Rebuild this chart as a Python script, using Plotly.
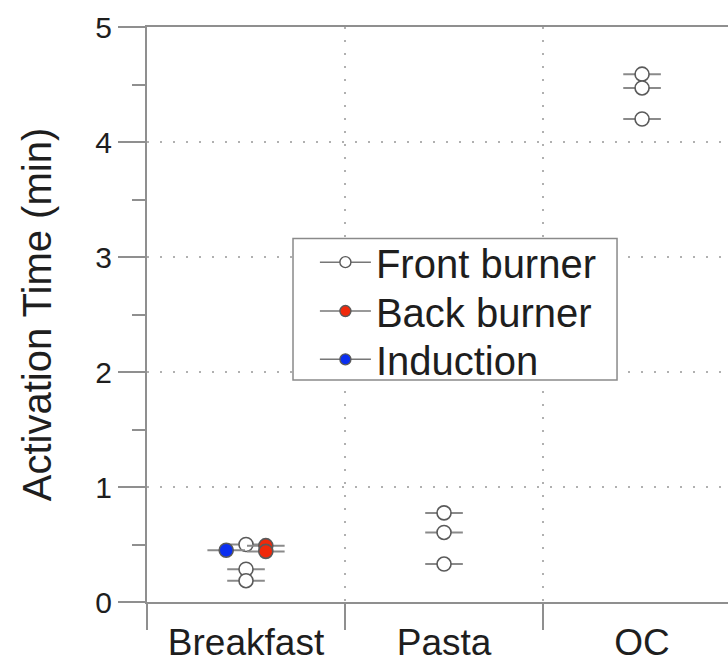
import plotly.graph_objects as go

categories = ["Breakfast", "Pasta", "OC"]
cat_pos = [0, 1, 2]

# Front burner (open circles)
front_x_cat = [0, 0, 0, 1, 1, 1, 2, 2, 2]
front_y = [0.50, 0.285, 0.185, 0.775, 0.605, 0.33, 4.59, 4.47, 4.20]
# Back burner (red)
back_x_cat = [0, 0]
back_y = [0.49, 0.44]
# Induction (blue)
ind_x_cat = [0]
ind_y = [0.45]

series_names = ["Front burner", "Back burner", "Induction"]
series_offset = {"Front burner": 0.0, "Back burner": 0.1, "Induction": -0.1}
bar_half = 0.095

FONT = "Liberation Sans, Arial, Helvetica, sans-serif"
TXT = "#1e1e1e"
AX = "#8f8f8f"
MK_LINE = "#5a5a5a"
colors = {"Front burner": "white", "Back burner": "#f0280a", "Induction": "#0a2ef0"}

fig = go.Figure()

def add_series(name, xc, ys):
    xs = [c + series_offset[name] for c in xc]
    fig.add_trace(go.Scatter(
        x=xs, y=ys, mode="markers", showlegend=False, name=name,
        marker=dict(size=14, color=colors[name], line=dict(color=MK_LINE, width=1.6)),
        error_x=dict(type="data", symmetric=True, array=[bar_half] * len(xs),
                     color="#8a8a8a", thickness=2, width=0),
    ))

add_series("Front burner", front_x_cat, front_y)
add_series("Back burner", back_x_cat, back_y)
add_series("Induction", ind_x_cat, ind_y)

legend_ids = ["legend", "legend2", "legend3"]
for name, lid in zip(series_names, legend_ids):
    fig.add_trace(go.Scatter(
        x=[None], y=[None], mode="lines+markers", name=name, legend=lid,
        line=dict(color="#777777", width=1.5),
        marker=dict(size=11, color=colors[name], line=dict(color=MK_LINE, width=1.4)),
    ))

# dummy trace for the minor-tick overlay axis
fig.add_trace(go.Scatter(x=[None], y=[None], yaxis="y2", showlegend=False, hoverinfo="skip"))

legend_rows_y = [0.591, 0.506, 0.422]
leg_common = dict(x=0.289, xanchor="left", yanchor="middle", bgcolor="rgba(0,0,0,0)",
                  borderwidth=0, font=dict(size=40, family=FONT, color=TXT), itemwidth=51)

fig.update_layout(
    width=728, height=666,
    margin=dict(l=147, r=0, t=27, b=64, autoexpand=False),
    paper_bgcolor="white", plot_bgcolor="white",
    font=dict(family=FONT, color=TXT),
    showlegend=True,
    legend=dict(y=legend_rows_y[0], **leg_common),
    legend2=dict(y=legend_rows_y[1], **leg_common),
    legend3=dict(y=legend_rows_y[2], **leg_common),
    shapes=[dict(type="rect", xref="paper", yref="paper",
                 x0=0.2513, x1=0.809, y0=0.386, y1=0.632,
                 line=dict(color="#8a8a8a", width=1.5), fillcolor="white", layer="above")],
    xaxis=dict(
        range=[-0.5, 2.434], tickmode="array", tickvals=cat_pos, ticktext=categories,
        ticks="", showgrid=False, zeroline=False, automargin=False,
        showline=True, linecolor=AX, linewidth=2, mirror=True,
        tickfont=dict(size=37, family=FONT, color=TXT),
        ticklabelstandoff=7,
        minor=dict(tick0=-0.5, dtick=1, ticks="outside", ticklen=26, tickwidth=2,
                   tickcolor=AX, showgrid=True, gridcolor="#b0b0b0", gridwidth=1.5,
                   griddash="2px,11px"),
    ),
    yaxis=dict(
        range=[0, 5], tickmode="array", tickvals=[0, 1, 2, 3, 4, 5], automargin=False,
        ticks="outside", ticklen=27, tickwidth=2,
        tickcolor=AX, showline=True, linecolor=AX, linewidth=2, zeroline=False,
        showgrid=True, gridcolor="#b0b0b0", gridwidth=1.5, griddash="2px,11px",
        tickfont=dict(size=30, family=FONT, color=TXT),
        title=dict(text="Activation Time (min)", font=dict(size=40, family=FONT, color=TXT),
                   standoff=31),
    ),
    yaxis2=dict(
        overlaying="y", side="left", anchor="x", range=[0, 5], automargin=False,
        tickmode="array", tickvals=[0.5, 1.5, 2.5, 3.5, 4.5],
        ticks="outside", ticklen=14, tickwidth=2, tickcolor=AX,
        showticklabels=False, showline=False, showgrid=False, zeroline=False,
    ),
)

fig.write_html("out.html")
